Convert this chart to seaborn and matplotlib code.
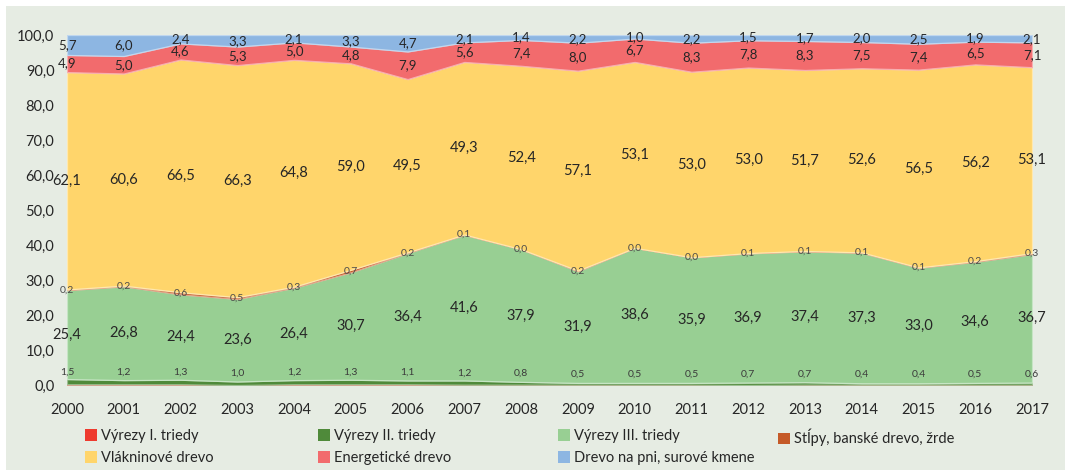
"""Stacked 100 % area chart: assortment structure of wood supply 2000-2017."""

import matplotlib.pyplot as plt
import numpy as np
import pandas as pd
import seaborn as sns
from matplotlib.colors import to_rgb
from matplotlib.patches import Patch, Rectangle

years = list(range(2000, 2018))

# bottom -> top of the stack
vyrezy_1 = [0.2, 0.2, 0.2, 0.0, 0.2, 0.2, 0.2, 0.1, 0.1, 0.1, 0.1, 0.1, 0.0, 0.1, 0.1, 0.1, 0.1, 0.1]
vyrezy_2 = [1.5, 1.2, 1.3, 1.0, 1.2, 1.3, 1.1, 1.2, 0.8, 0.5, 0.5, 0.5, 0.7, 0.7, 0.4, 0.4, 0.5, 0.6]
vyrezy_3 = [25.4, 26.8, 24.4, 23.6, 26.4, 30.7, 36.4, 41.6, 37.9, 31.9, 38.6, 35.9, 36.9, 37.4, 37.3, 33.0, 34.6, 36.7]
stlpy = [0.2, 0.2, 0.6, 0.5, 0.3, 0.7, 0.2, 0.1, 0.0, 0.2, 0.0, 0.0, 0.1, 0.1, 0.1, 0.1, 0.2, 0.3]
vlakninove = [62.1, 60.6, 66.5, 66.3, 64.8, 59.0, 49.5, 49.3, 52.4, 57.1, 53.1, 53.0, 53.0, 51.7, 52.6, 56.5, 56.2, 53.1]
energeticke = [4.9, 5.0, 4.6, 5.3, 5.0, 4.8, 7.9, 5.6, 7.4, 8.0, 6.7, 8.3, 7.8, 8.3, 7.5, 7.4, 6.5, 7.1]
drevo_na_pni = [5.7, 6.0, 2.4, 3.3, 2.1, 3.3, 4.7, 2.1, 1.4, 2.2, 1.0, 2.2, 1.5, 1.7, 2.0, 2.5, 1.9, 2.1]

series_names = [
    "Výrezy I. triedy",
    "Výrezy II. triedy",
    "Výrezy III. triedy",
    "Stĺpy, banské drevo, žrde",
    "Vlákninové drevo",
    "Energetické drevo",
    "Drevo na pni, surové kmene",
]
colors = ["#EE3A2E", "#4F8A3A", "#98CF93", "#C55A28", "#FFD56B", "#F26B6D", "#8DB6E2"]

df = pd.DataFrame(
    dict(zip(series_names, [vyrezy_1, vyrezy_2, vyrezy_3, stlpy, vlakninove, energeticke, drevo_na_pni])),
    index=years,
)
shares = df.div(df.sum(axis=1), axis=0) * 100
centers = shares.cumsum(axis=1) - shares / 2

sns.set_theme(style="white")
plt.rcParams["font.family"] = ["Lato", "DejaVu Sans"]

panel = "#E6ECE3"
W, H = 1065, 474
fig = plt.figure(figsize=(W / 100, H / 100), dpi=100)
fig.patch.set_facecolor("white")
fig.add_artist(Rectangle((6 / W, 1 - 470 / H), 1, (470 - 6) / H, transform=fig.transFigure,
                         facecolor=panel, edgecolor="none", zorder=-5))

ax = fig.add_axes([67 / W, 1 - 385 / H, (1032 - 67) / W, (385 - 35) / H])
ax.set_facecolor(panel)

polys = ax.stackplot(years, shares.T.values, colors=colors, linewidth=0.9)
for poly, c in zip(polys, colors):
    edge = 0.55 * np.array(to_rgb(c)) + 0.45
    poly.set_edgecolor(edge)

# data labels
style = {
    "Výrezy II. triedy": dict(size=7.5, dy=7, color="#3a3a3a"),
    "Výrezy III. triedy": dict(size=10.5, dy=0, color="#262626"),
    "Stĺpy, banské drevo, žrde": dict(size=7.5, dy=0, color="#4a4a4a"),
    "Vlákninové drevo": dict(size=10.5, dy=0, color="#262626"),
    "Energetické drevo": dict(size=9.5, dy=0, color="#262626"),
    "Drevo na pni, surové kmene": dict(size=9.5, dy=0, color="#262626"),
}
for name, st in style.items():
    for yr in years:
        txt = f"{df.loc[yr, name]:.1f}".replace(".", ",")
        ax.annotate(txt, (yr, centers.loc[yr, name]), xytext=(0, st["dy"]), textcoords="offset points",
                    ha="center", va="center", fontsize=st["size"], color=st["color"], annotation_clip=False)

ax.set_xlim(2000, 2017)
ax.set_ylim(0, 100)
ax.set_xticks(years)
ax.set_xticklabels([str(y) for y in years], fontsize=10.5, color="#262626")
yt = np.arange(0, 101, 10)
ax.set_yticks(yt)
ax.set_yticklabels([f"{v:.1f}".replace(".", ",") for v in yt], fontsize=10.5, color="#262626")
ax.tick_params(axis="x", length=0, pad=13)
ax.tick_params(axis="y", length=0, pad=9)
sns.despine(ax=ax, left=True, bottom=True)
ax.grid(False)

# legend: four columns at fixed positions, filled row-wise
columns = [(85, [0, 4]), (318, [1, 5]), (558, [2, 6]), (778, [3])]
for x0, idx in columns:
    handles = [Patch(facecolor=colors[i], edgecolor="none") for i in idx]
    fig.legend(handles, [series_names[i] for i in idx], loc="upper left",
               bbox_to_anchor=(x0 / W, 1 - 429 / H), frameon=False, borderpad=0, borderaxespad=0,
               handlelength=0.8, handleheight=0.8, handletextpad=0.3, labelspacing=0.55,
               fontsize=10.5, labelcolor="#262626")

fig.savefig("out.png", dpi=100, facecolor=fig.get_facecolor())
plt.close(fig)
